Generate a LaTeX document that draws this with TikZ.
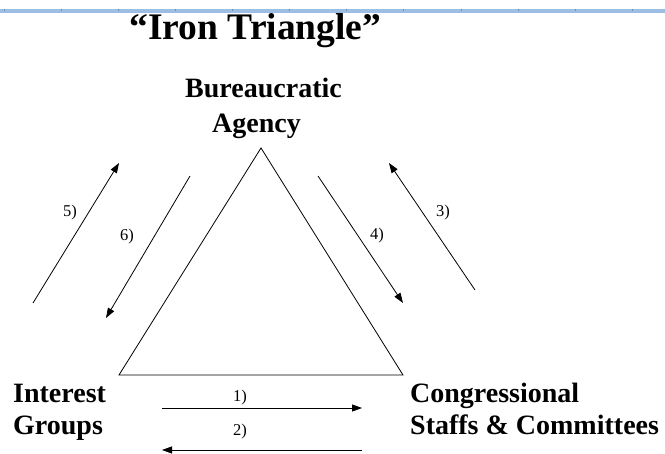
\documentclass[tikz,border=0pt]{standalone}
\usepackage{fontspec}
\setmainfont{LiberationSerif}[Extension=.ttf, UprightFont=*-Regular, BoldFont=*-Bold, ItalicFont=*-Italic, BoldItalicFont=*-BoldItalic]
\usetikzlibrary{arrows.meta}
\definecolor{bandblue}{RGB}{157,190,228}
\definecolor{tickgray}{RGB}{120,140,165}
\begin{document}
\begin{tikzpicture}[x=1pt,y=-1pt,
  bigtxt/.style={font=\bfseries\fontsize{28}{30}\selectfont, inner sep=0pt},
  numtxt/.style={font=\fontsize{16.5}{18}\selectfont, inner sep=0pt},
  flow/.style={line width=0.8pt, -{Triangle[length=10pt,width=7pt]}},
  tri/.style={line width=0.8pt, line join=miter}]
\useasboundingbox (0,0) rectangle (665,454);
\fill[white] (0,0) rectangle (665,454);
% top ruler band
\fill[bandblue] (0,9) rectangle (665,13.5);
\foreach \k in {0,...,11} {\draw[tickgray, line width=0.6pt] ({4+57.1*\k},9) -- ({4+57.1*\k},11);}
% title
\node[anchor=base, inner sep=0pt, font=\bfseries\fontsize{37.5}{40}\selectfont] (title) at (255.5,40) {“Iron Triangle”};
% corner labels
\node[bigtxt, anchor=base] (bur) at (263.5,98) {Bureaucratic};
\node[bigtxt, anchor=base] (agency) at (256.5,133) {Agency};
\node[bigtxt, anchor=base west] (int) at (13,403) {Interest};
\node[bigtxt, anchor=base west] (grp) at (13,435) {Groups};
\node[bigtxt, anchor=base west] (cong) at (410,403) {Congressional};
\node[bigtxt, anchor=base west] (staff) at (410,435) {Staffs \& Committees};
% triangle
\coordinate (apex) at (261,148);
\coordinate (bl) at (119,375);
\coordinate (br) at (403,375);
\draw[tri] (apex) -- (bl) -- (br) -- cycle;
% arrow end points
\coordinate (a5s) at (33,303);  \coordinate (a5e) at (119,163);
\coordinate (a6s) at (190,176); \coordinate (a6e) at (106,318);
\coordinate (a4s) at (318,176); \coordinate (a4e) at (403,303);
\coordinate (a3s) at (475,290); \coordinate (a3e) at (389,163);
\coordinate (a1s) at (162,408); \coordinate (a1e) at (362,408);
\coordinate (a2s) at (362,450); \coordinate (a2e) at (162,450);
\draw[flow] (a5s) -- (a5e);
\draw[flow] (a6s) -- (a6e);
\draw[flow] (a4s) -- (a4e);
\draw[flow] (a3s) -- (a3e);
\draw[flow] (a1s) -- (a1e);
\draw[flow] (a2s) -- (a2e);
% numbers
\node[numtxt] (n5) at (70,213) {5)};
\node[numtxt] (n6) at (127,237) {6)};
\node[numtxt] (n4) at (377,236) {4)};
\node[numtxt] (n3) at (443,213) {3)};
\node[numtxt] (n1) at (240,398) {1)};
\node[numtxt] (n2) at (240,432) {2)};
\end{tikzpicture}
\end{document}
